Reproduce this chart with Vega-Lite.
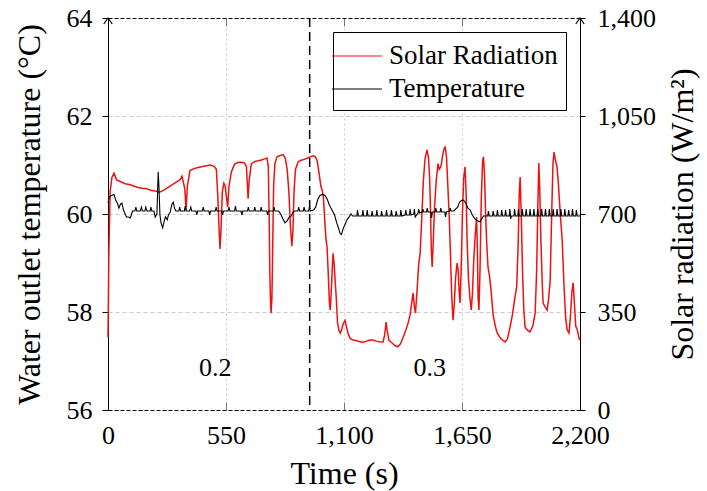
{
  "$schema": "https://vega.github.io/schema/vega-lite/v6.json",
  "width": 472,
  "height": 392,
  "autosize": {"type": "none"},
  "padding": {"left": 108, "top": 18, "right": 127, "bottom": 81},
  "background": "white",
  "config": {
    "font": "Liberation Serif",
    "view": {"stroke": null},
    "axis": {
      "labelFont": "Liberation Serif",
      "titleFont": "Liberation Serif",
      "labelFontSize": 26,
      "titleFontSize": 32,
      "titleFontWeight": "normal",
      "labelColor": "black",
      "titleColor": "black",
      "tickColor": "black",
      "domainColor": "black",
      "domainWidth": 1,
      "gridColor": "#c4c4c4",
      "gridWidth": 0.9,
      "labelFlush": false,
      "labelOverlap": false
    },
    "legend": {
      "labelFont": "Liberation Serif",
      "labelFontSize": 27,
      "labelColor": "black",
      "labelLimit": 0
    }
  },
  "datasets": {
    "radiation": [
      {"t": 0, "r": 260}, {"t": 4, "r": 560}, {"t": 10, "r": 780}, {"t": 18, "r": 830}, {"t": 28, "r": 846},
      {"t": 40, "r": 822}, {"t": 60, "r": 815}, {"t": 80, "r": 808}, {"t": 100, "r": 805}, {"t": 120, "r": 800},
      {"t": 140, "r": 795}, {"t": 160, "r": 792}, {"t": 180, "r": 790}, {"t": 200, "r": 785}, {"t": 220, "r": 782},
      {"t": 240, "r": 778}, {"t": 260, "r": 785}, {"t": 280, "r": 795}, {"t": 300, "r": 805}, {"t": 320, "r": 815},
      {"t": 335, "r": 822}, {"t": 345, "r": 835}, {"t": 352, "r": 810}, {"t": 358, "r": 790}, {"t": 364, "r": 714},
      {"t": 370, "r": 800}, {"t": 382, "r": 855}, {"t": 400, "r": 862}, {"t": 420, "r": 866}, {"t": 440, "r": 870},
      {"t": 460, "r": 872}, {"t": 476, "r": 875}, {"t": 495, "r": 870}, {"t": 505, "r": 860}, {"t": 512, "r": 760},
      {"t": 518, "r": 640}, {"t": 522, "r": 575}, {"t": 527, "r": 650}, {"t": 533, "r": 780}, {"t": 540, "r": 810},
      {"t": 546, "r": 800}, {"t": 552, "r": 760}, {"t": 558, "r": 725}, {"t": 564, "r": 800}, {"t": 575, "r": 850},
      {"t": 590, "r": 878}, {"t": 605, "r": 884}, {"t": 620, "r": 885}, {"t": 635, "r": 883}, {"t": 645, "r": 870},
      {"t": 650, "r": 800}, {"t": 653, "r": 755}, {"t": 658, "r": 820}, {"t": 668, "r": 880}, {"t": 685, "r": 888},
      {"t": 700, "r": 890}, {"t": 715, "r": 893}, {"t": 730, "r": 897}, {"t": 741, "r": 900}, {"t": 747, "r": 870},
      {"t": 751, "r": 700}, {"t": 754, "r": 500}, {"t": 757, "r": 400}, {"t": 760, "r": 346}, {"t": 764, "r": 400},
      {"t": 768, "r": 600}, {"t": 772, "r": 800}, {"t": 778, "r": 880}, {"t": 788, "r": 904}, {"t": 800, "r": 908},
      {"t": 816, "r": 912}, {"t": 826, "r": 900}, {"t": 835, "r": 860}, {"t": 843, "r": 780}, {"t": 850, "r": 660},
      {"t": 857, "r": 585}, {"t": 862, "r": 640}, {"t": 867, "r": 780}, {"t": 874, "r": 860}, {"t": 886, "r": 886},
      {"t": 900, "r": 892}, {"t": 915, "r": 895}, {"t": 930, "r": 900}, {"t": 945, "r": 905}, {"t": 956, "r": 908},
      {"t": 966, "r": 905}, {"t": 975, "r": 890}, {"t": 985, "r": 840}, {"t": 992, "r": 800}, {"t": 998, "r": 786},
      {"t": 1004, "r": 760}, {"t": 1010, "r": 680}, {"t": 1016, "r": 610}, {"t": 1021, "r": 582}, {"t": 1027, "r": 480},
      {"t": 1032, "r": 380}, {"t": 1036, "r": 357}, {"t": 1041, "r": 430}, {"t": 1045, "r": 500}, {"t": 1049, "r": 560},
      {"t": 1054, "r": 520}, {"t": 1058, "r": 470}, {"t": 1064, "r": 400}, {"t": 1070, "r": 310}, {"t": 1077, "r": 282},
      {"t": 1083, "r": 275}, {"t": 1090, "r": 290}, {"t": 1097, "r": 310}, {"t": 1105, "r": 320}, {"t": 1112, "r": 295},
      {"t": 1120, "r": 270}, {"t": 1130, "r": 255}, {"t": 1142, "r": 250}, {"t": 1155, "r": 248}, {"t": 1170, "r": 245},
      {"t": 1189, "r": 242}, {"t": 1205, "r": 246}, {"t": 1220, "r": 250}, {"t": 1235, "r": 250}, {"t": 1250, "r": 246},
      {"t": 1265, "r": 244}, {"t": 1282, "r": 243}, {"t": 1290, "r": 270}, {"t": 1296, "r": 314}, {"t": 1302, "r": 280},
      {"t": 1310, "r": 248}, {"t": 1320, "r": 242}, {"t": 1335, "r": 232}, {"t": 1350, "r": 226}, {"t": 1362, "r": 235},
      {"t": 1375, "r": 258}, {"t": 1388, "r": 285}, {"t": 1399, "r": 311}, {"t": 1408, "r": 340}, {"t": 1415, "r": 380},
      {"t": 1422, "r": 418}, {"t": 1428, "r": 370}, {"t": 1433, "r": 346}, {"t": 1440, "r": 420}, {"t": 1448, "r": 520},
      {"t": 1455, "r": 561}, {"t": 1462, "r": 680}, {"t": 1470, "r": 820}, {"t": 1478, "r": 900}, {"t": 1487, "r": 929},
      {"t": 1494, "r": 900}, {"t": 1499, "r": 830}, {"t": 1503, "r": 720}, {"t": 1507, "r": 570}, {"t": 1511, "r": 511},
      {"t": 1516, "r": 600}, {"t": 1522, "r": 725}, {"t": 1530, "r": 820}, {"t": 1538, "r": 880}, {"t": 1544, "r": 860},
      {"t": 1552, "r": 870}, {"t": 1560, "r": 910}, {"t": 1567, "r": 935}, {"t": 1572, "r": 939}, {"t": 1578, "r": 900},
      {"t": 1584, "r": 800}, {"t": 1590, "r": 700}, {"t": 1596, "r": 560}, {"t": 1602, "r": 410}, {"t": 1608, "r": 321},
      {"t": 1614, "r": 380}, {"t": 1620, "r": 470}, {"t": 1627, "r": 525}, {"t": 1632, "r": 500}, {"t": 1637, "r": 420},
      {"t": 1641, "r": 382}, {"t": 1646, "r": 500}, {"t": 1652, "r": 700}, {"t": 1658, "r": 830}, {"t": 1664, "r": 868},
      {"t": 1669, "r": 780}, {"t": 1674, "r": 600}, {"t": 1680, "r": 470}, {"t": 1687, "r": 400}, {"t": 1693, "r": 357},
      {"t": 1699, "r": 420}, {"t": 1705, "r": 540}, {"t": 1712, "r": 630}, {"t": 1718, "r": 689}, {"t": 1722, "r": 560},
      {"t": 1725, "r": 400}, {"t": 1729, "r": 357}, {"t": 1734, "r": 500}, {"t": 1740, "r": 760}, {"t": 1746, "r": 890},
      {"t": 1750, "r": 904}, {"t": 1755, "r": 840}, {"t": 1760, "r": 700}, {"t": 1765, "r": 600}, {"t": 1771, "r": 511},
      {"t": 1778, "r": 480}, {"t": 1785, "r": 430}, {"t": 1795, "r": 340}, {"t": 1805, "r": 300}, {"t": 1814, "r": 275},
      {"t": 1830, "r": 255}, {"t": 1851, "r": 243}, {"t": 1862, "r": 255}, {"t": 1874, "r": 296}, {"t": 1885, "r": 340},
      {"t": 1897, "r": 404}, {"t": 1905, "r": 440}, {"t": 1912, "r": 600}, {"t": 1917, "r": 780}, {"t": 1921, "r": 832},
      {"t": 1926, "r": 700}, {"t": 1932, "r": 500}, {"t": 1938, "r": 360}, {"t": 1944, "r": 296}, {"t": 1955, "r": 285},
      {"t": 1967, "r": 279}, {"t": 1980, "r": 300}, {"t": 1991, "r": 346}, {"t": 1998, "r": 500}, {"t": 2004, "r": 750},
      {"t": 2008, "r": 882}, {"t": 2012, "r": 800}, {"t": 2018, "r": 600}, {"t": 2024, "r": 450}, {"t": 2028, "r": 382},
      {"t": 2036, "r": 370}, {"t": 2047, "r": 357}, {"t": 2054, "r": 400}, {"t": 2061, "r": 464}, {"t": 2068, "r": 700},
      {"t": 2074, "r": 880}, {"t": 2079, "r": 921}, {"t": 2086, "r": 890}, {"t": 2093, "r": 868}, {"t": 2100, "r": 800},
      {"t": 2108, "r": 700}, {"t": 2117, "r": 607}, {"t": 2125, "r": 450}, {"t": 2133, "r": 330}, {"t": 2140, "r": 286},
      {"t": 2149, "r": 275}, {"t": 2156, "r": 340}, {"t": 2162, "r": 420}, {"t": 2168, "r": 454}, {"t": 2174, "r": 380},
      {"t": 2180, "r": 300}, {"t": 2188, "r": 285}, {"t": 2196, "r": 255}, {"t": 2200, "r": 250}
    ],
    "temperature": [
      {"t": 0, "T": 60.22}, {"t": 6, "T": 60.34}, {"t": 16, "T": 60.38}, {"t": 28, "T": 60.4}, {"t": 36, "T": 60.28},
      {"t": 44, "T": 60.22}, {"t": 51, "T": 60.12}, {"t": 58, "T": 60.2}, {"t": 65, "T": 60.22}, {"t": 72, "T": 60.08},
      {"t": 78, "T": 60.02}, {"t": 86, "T": 59.94}, {"t": 96, "T": 59.94}, {"t": 104, "T": 59.92}, {"t": 110, "T": 60.0},
      {"t": 114, "T": 60.06}, {"t": 125, "T": 60.06}, {"t": 130, "T": 60.14}, {"t": 134, "T": 60.06}, {"t": 150, "T": 60.06},
      {"t": 156, "T": 60.14}, {"t": 160, "T": 60.06}, {"t": 172, "T": 60.06}, {"t": 176, "T": 60.14}, {"t": 182, "T": 60.06},
      {"t": 196, "T": 60.06}, {"t": 200, "T": 60.14}, {"t": 204, "T": 60.06}, {"t": 214, "T": 60.06}, {"t": 220, "T": 59.94},
      {"t": 228, "T": 60.0}, {"t": 234, "T": 60.86}, {"t": 238, "T": 60.5}, {"t": 242, "T": 59.98}, {"t": 248, "T": 59.8},
      {"t": 255, "T": 59.72}, {"t": 262, "T": 59.86}, {"t": 268, "T": 59.94}, {"t": 276, "T": 59.88}, {"t": 282, "T": 59.98},
      {"t": 290, "T": 60.04}, {"t": 298, "T": 60.2}, {"t": 304, "T": 60.24}, {"t": 310, "T": 60.12}, {"t": 316, "T": 60.06},
      {"t": 330, "T": 60.06}, {"t": 334, "T": 60.14}, {"t": 338, "T": 60.06}, {"t": 356, "T": 60.06}, {"t": 360, "T": 60.16},
      {"t": 364, "T": 60.06}, {"t": 380, "T": 60.06}, {"t": 386, "T": 60.14}, {"t": 390, "T": 60.06}, {"t": 410, "T": 60.06},
      {"t": 414, "T": 59.98}, {"t": 418, "T": 60.06}, {"t": 440, "T": 60.06}, {"t": 444, "T": 60.14}, {"t": 448, "T": 60.06},
      {"t": 470, "T": 60.06}, {"t": 474, "T": 59.98}, {"t": 478, "T": 60.06}, {"t": 500, "T": 60.06}, {"t": 504, "T": 60.14},
      {"t": 508, "T": 60.06}, {"t": 530, "T": 60.06}, {"t": 534, "T": 59.98}, {"t": 538, "T": 60.06}, {"t": 560, "T": 60.06},
      {"t": 564, "T": 60.14}, {"t": 568, "T": 60.06}, {"t": 590, "T": 60.06}, {"t": 594, "T": 60.16}, {"t": 598, "T": 60.06},
      {"t": 620, "T": 60.06}, {"t": 624, "T": 59.98}, {"t": 628, "T": 60.06}, {"t": 650, "T": 60.06}, {"t": 654, "T": 60.14},
      {"t": 658, "T": 60.06}, {"t": 680, "T": 60.06}, {"t": 684, "T": 60.14}, {"t": 688, "T": 60.06}, {"t": 710, "T": 60.06},
      {"t": 714, "T": 60.14}, {"t": 718, "T": 60.06}, {"t": 740, "T": 60.06}, {"t": 744, "T": 59.98}, {"t": 748, "T": 60.06},
      {"t": 770, "T": 60.06}, {"t": 774, "T": 60.14}, {"t": 778, "T": 60.06}, {"t": 795, "T": 60.06}, {"t": 805, "T": 60.0},
      {"t": 815, "T": 59.9}, {"t": 825, "T": 59.82}, {"t": 835, "T": 59.86}, {"t": 845, "T": 59.94}, {"t": 855, "T": 59.96},
      {"t": 862, "T": 60.04}, {"t": 870, "T": 60.06}, {"t": 885, "T": 60.06}, {"t": 889, "T": 60.14}, {"t": 893, "T": 60.06},
      {"t": 910, "T": 60.06}, {"t": 914, "T": 60.14}, {"t": 918, "T": 60.06}, {"t": 935, "T": 60.06}, {"t": 939, "T": 60.14},
      {"t": 943, "T": 60.06}, {"t": 958, "T": 60.08}, {"t": 968, "T": 60.14}, {"t": 978, "T": 60.3}, {"t": 988, "T": 60.38},
      {"t": 1000, "T": 60.4}, {"t": 1012, "T": 60.38}, {"t": 1022, "T": 60.3}, {"t": 1032, "T": 60.18}, {"t": 1044, "T": 60.08},
      {"t": 1056, "T": 59.98}, {"t": 1066, "T": 59.82}, {"t": 1074, "T": 59.72}, {"t": 1082, "T": 59.6}, {"t": 1088, "T": 59.58},
      {"t": 1096, "T": 59.7}, {"t": 1106, "T": 59.8}, {"t": 1114, "T": 59.88}, {"t": 1124, "T": 59.94}, {"t": 1132, "T": 60.0},
      {"t": 1140, "T": 59.96}, {"t": 1160, "T": 59.96}, {"t": 1163, "T": 60.08}, {"t": 1167, "T": 59.96}, {"t": 1185, "T": 59.96},
      {"t": 1188, "T": 60.08}, {"t": 1192, "T": 59.96}, {"t": 1205, "T": 59.96}, {"t": 1208, "T": 60.08}, {"t": 1212, "T": 59.96},
      {"t": 1228, "T": 59.96}, {"t": 1231, "T": 60.06}, {"t": 1235, "T": 59.96}, {"t": 1250, "T": 59.96}, {"t": 1253, "T": 60.08},
      {"t": 1257, "T": 59.96}, {"t": 1272, "T": 59.96}, {"t": 1275, "T": 60.06}, {"t": 1279, "T": 59.96}, {"t": 1295, "T": 59.96},
      {"t": 1298, "T": 60.08}, {"t": 1302, "T": 59.96}, {"t": 1318, "T": 59.96}, {"t": 1321, "T": 60.08}, {"t": 1325, "T": 59.96},
      {"t": 1340, "T": 59.96}, {"t": 1343, "T": 60.06}, {"t": 1347, "T": 59.96}, {"t": 1362, "T": 59.96}, {"t": 1365, "T": 60.08},
      {"t": 1369, "T": 59.96}, {"t": 1385, "T": 59.98}, {"t": 1388, "T": 60.08}, {"t": 1392, "T": 59.98}, {"t": 1405, "T": 59.98},
      {"t": 1408, "T": 60.1}, {"t": 1412, "T": 59.98}, {"t": 1425, "T": 60.0}, {"t": 1428, "T": 60.1}, {"t": 1432, "T": 59.94},
      {"t": 1445, "T": 60.02}, {"t": 1448, "T": 60.1}, {"t": 1452, "T": 60.02}, {"t": 1465, "T": 60.04}, {"t": 1468, "T": 60.1},
      {"t": 1472, "T": 60.04}, {"t": 1485, "T": 60.04}, {"t": 1488, "T": 60.12}, {"t": 1492, "T": 60.04}, {"t": 1505, "T": 60.04},
      {"t": 1508, "T": 59.92}, {"t": 1512, "T": 60.04}, {"t": 1525, "T": 60.04}, {"t": 1528, "T": 60.12}, {"t": 1532, "T": 60.04},
      {"t": 1548, "T": 60.04}, {"t": 1551, "T": 60.12}, {"t": 1555, "T": 60.04}, {"t": 1570, "T": 60.04}, {"t": 1573, "T": 59.94},
      {"t": 1577, "T": 60.04}, {"t": 1592, "T": 60.06}, {"t": 1595, "T": 60.12}, {"t": 1599, "T": 60.06}, {"t": 1612, "T": 60.06},
      {"t": 1620, "T": 60.1}, {"t": 1630, "T": 60.14}, {"t": 1638, "T": 60.24}, {"t": 1648, "T": 60.28}, {"t": 1658, "T": 60.28},
      {"t": 1668, "T": 60.22}, {"t": 1678, "T": 60.12}, {"t": 1688, "T": 60.08}, {"t": 1698, "T": 59.98}, {"t": 1710, "T": 59.9},
      {"t": 1722, "T": 59.86}, {"t": 1734, "T": 59.84}, {"t": 1742, "T": 59.9}, {"t": 1750, "T": 59.96}, {"t": 1770, "T": 59.96},
      {"t": 1773, "T": 60.06}, {"t": 1777, "T": 59.96}, {"t": 1792, "T": 59.96}, {"t": 1795, "T": 60.06}, {"t": 1799, "T": 59.96},
      {"t": 1812, "T": 59.96}, {"t": 1815, "T": 60.08}, {"t": 1819, "T": 59.96}, {"t": 1832, "T": 59.96}, {"t": 1835, "T": 60.08},
      {"t": 1839, "T": 59.96}, {"t": 1850, "T": 59.96}, {"t": 1853, "T": 60.08}, {"t": 1857, "T": 59.96}, {"t": 1870, "T": 59.96},
      {"t": 1873, "T": 60.1}, {"t": 1877, "T": 59.9}, {"t": 1880, "T": 59.96}, {"t": 1892, "T": 59.96}, {"t": 1895, "T": 60.1},
      {"t": 1899, "T": 59.96}, {"t": 1910, "T": 59.96}, {"t": 1913, "T": 60.1}, {"t": 1917, "T": 59.96}, {"t": 1928, "T": 59.96},
      {"t": 1931, "T": 60.1}, {"t": 1935, "T": 59.96}, {"t": 1946, "T": 59.96}, {"t": 1949, "T": 60.1}, {"t": 1953, "T": 59.96},
      {"t": 1964, "T": 59.96}, {"t": 1967, "T": 60.1}, {"t": 1971, "T": 59.96}, {"t": 1982, "T": 59.96}, {"t": 1985, "T": 60.1},
      {"t": 1989, "T": 59.96}, {"t": 2000, "T": 59.96}, {"t": 2003, "T": 60.1}, {"t": 2007, "T": 59.96}, {"t": 2018, "T": 59.96},
      {"t": 2021, "T": 60.1}, {"t": 2025, "T": 59.96}, {"t": 2036, "T": 59.96}, {"t": 2039, "T": 60.1}, {"t": 2043, "T": 59.96},
      {"t": 2054, "T": 59.96}, {"t": 2057, "T": 60.1}, {"t": 2061, "T": 59.96}, {"t": 2072, "T": 59.96}, {"t": 2075, "T": 60.1},
      {"t": 2079, "T": 59.96}, {"t": 2090, "T": 59.96}, {"t": 2093, "T": 60.1}, {"t": 2097, "T": 59.96}, {"t": 2108, "T": 59.96},
      {"t": 2111, "T": 60.1}, {"t": 2115, "T": 59.96}, {"t": 2126, "T": 59.96}, {"t": 2129, "T": 60.1}, {"t": 2133, "T": 59.96},
      {"t": 2144, "T": 59.96}, {"t": 2147, "T": 60.08}, {"t": 2151, "T": 59.96}, {"t": 2162, "T": 59.96}, {"t": 2165, "T": 60.1},
      {"t": 2169, "T": 59.96}, {"t": 2180, "T": 59.96}, {"t": 2183, "T": 60.08}, {"t": 2187, "T": 59.96}, {"t": 2200, "T": 59.96}
    ],
    "switchover": [{"t": 940}],
    "phases": [
      {"t": 500, "T": 56.86, "label": "0.2"},
      {"t": 1500, "T": 56.86, "label": "0.3"}
    ],
    "axisTips": [
      {"t": 0, "T": 64},
      {"t": 2200, "T": 64}
    ]
  },
  "layer": [
    {
      "data": {"name": "radiation"},
      "mark": {"type": "line", "strokeWidth": 1.5, "clip": false},
      "encoding": {
        "x": {
          "field": "t", "type": "quantitative",
          "scale": {"domain": [0, 2200], "nice": false},
          "axis": {
            "orient": "top", "values": [550, 1100, 1650],
            "labels": false, "domain": true, "domainDash": [4, 2], "grid": false,
            "tickSize": -8, "tickColor": "#777777", "title": null
          }
        },
        "y": {
          "field": "r", "type": "quantitative",
          "scale": {"domain": [0, 1400], "nice": false},
          "axis": {
            "orient": "right", "values": [0, 350, 700, 1050, 1400], "format": ",.0f",
            "grid": false, "domain": true, "tickSize": 5, "labelPadding": 12,
            "title": "Solar radiation (W/m²)", "titleAngle": 270, "titleBaseline": "top", "titlePadding": 12
          }
        },
        "color": {
          "datum": "Solar Radiation",
          "scale": {"domain": ["Solar Radiation", "Temperature"], "range": ["#ee1111", "#000000"]},
          "legend": {
            "title": null,
            "orient": "top-right",
            "offset": 14,
            "symbolType": "M-1.667,0L1.667,0",
            "symbolSize": 900,
            "symbolStrokeWidth": 1.2,
            "symbolOffset": 0,
            "labelOffset": 16,
            "padding": 8,
            "rowPadding": 4,
            "strokeColor": "black",
            "fillColor": "white",
            "cornerRadius": 0
          }
        }
      }
    },
    {
      "data": {"name": "temperature"},
      "mark": {"type": "line", "strokeWidth": 1.1, "clip": false},
      "encoding": {
        "x": {
          "field": "t", "type": "quantitative",
          "scale": {"domain": [0, 2200], "nice": false},
          "axis": {
            "orient": "bottom", "values": [0, 550, 1100, 1650, 2200], "format": ",.0f",
            "domain": true, "domainDash": [4, 2],
            "grid": true, "gridDash": [2, 3],
            "gridOpacity": {"condition": {"test": "datum.value === 0 || datum.value === 2200", "value": 0}, "value": 1},
            "tickSize": -8, "tickColor": "#777777", "labelPadding": 20,
            "title": "Time (s)", "titlePadding": 10
          }
        },
        "y": {
          "field": "T", "type": "quantitative",
          "scale": {"domain": [56, 64], "nice": false, "zero": false},
          "axis": {
            "orient": "left", "values": [56, 58, 60, 62, 64],
            "domain": true,
            "grid": true, "gridDash": [4, 3],
            "gridOpacity": {"condition": {"test": "datum.value === 56 || datum.value === 64", "value": 0}, "value": 1},
            "tickSize": 6, "labelPadding": 10,
            "title": "Water outlet temperature (°C)", "titlePadding": 20
          }
        },
        "color": {"datum": "Temperature"}
      }
    },
    {
      "data": {"name": "switchover"},
      "mark": {"type": "rule", "strokeDash": [9, 5], "strokeWidth": 1.5, "color": "black"},
      "encoding": {
        "x": {"field": "t", "type": "quantitative", "axis": null}
      }
    },
    {
      "data": {"name": "phases"},
      "mark": {"type": "text", "fontSize": 26, "font": "Liberation Serif", "color": "black"},
      "encoding": {
        "x": {"field": "t", "type": "quantitative", "axis": null},
        "y": {"field": "T", "type": "quantitative", "scale": {"domain": [56, 64], "nice": false, "zero": false}, "axis": null},
        "text": {"field": "label"}
      }
    },
    {
      "data": {"name": "axisTips"},
      "mark": {
        "type": "point", "shape": "M-0.7,1L0,0L0.7,1", "size": 144,
        "filled": false, "color": "black", "strokeWidth": 1.2, "opacity": 1, "clip": false
      },
      "encoding": {
        "x": {"field": "t", "type": "quantitative", "axis": null},
        "y": {"field": "T", "type": "quantitative", "scale": {"domain": [56, 64], "nice": false, "zero": false}, "axis": null}
      }
    }
  ],
  "resolve": {
    "scale": {"y": "independent"},
    "axis": {"x": "independent", "y": "independent"}
  }
}
